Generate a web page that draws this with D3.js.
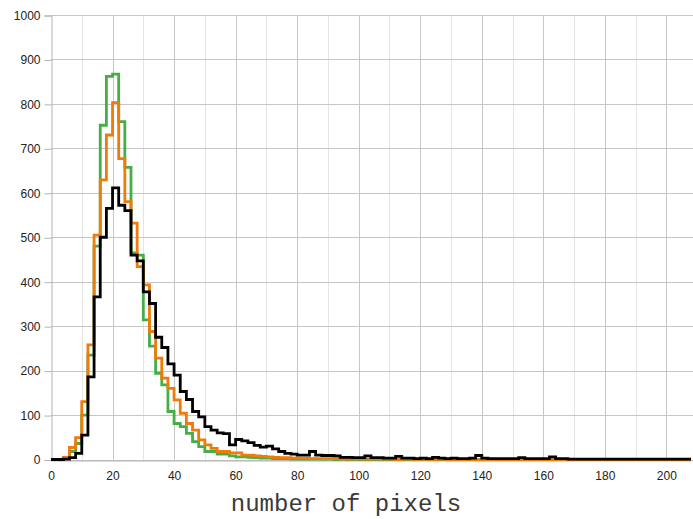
<!DOCTYPE html>
<html>
<head>
<meta charset="utf-8">
<script src="https://cdn.jsdelivr.net/npm/d3@7"></script>
<style>
  html, body { margin: 0; padding: 0; background: #ffffff; }
  svg { display: block; }
</style>
</head>
<body>
<svg id="chart" width="693" height="519"></svg>
<script>
// ---- data ----
const binWidth = 2;
const xTicks = [0, 20, 40, 60, 80, 100, 120, 140, 160, 180, 200];
const yTicks = [0, 100, 200, 300, 400, 500, 600, 700, 800, 900, 1000];
const xLabel = "number of pixels";

const greenValues = [
  0, 0, 2, 18, 36, 100, 235, 480, 752, 862,
  867, 760, 657, 465, 460, 314, 255, 194, 168, 108,
  81, 74, 59, 40, 29, 18, 18, 12, 12, 8,
  6, 6, 5, 4, 3, 3, 2, 2, 2, 1,
  1, 1, 1, 1, 1, 1, 0, 1, 0, 0,
  0, 0, 0, 0, 0, 0, 0, 0, 0, 0,
  0, 0, 0, 0, 0, 0, 0, 0, 0, 0,
  0, 0, 0, 0, 0, 0, 0, 0, 0, 0,
  0, 0, 0, 0, 0, 0, 0, 0, 0, 0,
  0, 0, 0, 0, 0, 0, 0, 0, 0, 0,
  0, 0, 0, 0
];
const orangeValues = [
  0, 0, 5, 27, 49, 130, 258, 505, 629, 730,
  803, 677, 580, 532, 434, 393, 288, 228, 183, 160,
  134, 104, 81, 66, 44, 33, 25, 18, 18, 15,
  15, 10, 10, 8, 7, 6, 5, 4, 4, 3,
  3, 3, 2, 2, 2, 2, 2, 1, 1, 1,
  1, 1, 1, 1, 1, 1, 0, 1, 1, 0,
  1, 0, 0, 1, 0, 0, 0, 0, 0, 0,
  0, 0, 0, 0, 0, 0, 0, 0, 0, 0,
  0, 0, 0, 0, 0, 0, 0, 0, 0, 0,
  0, 0, 0, 0, 0, 0, 0, 0, 0, 0,
  0, 0, 0, 0
];
const blackValues = [
  0, 0, 1, 4, 14, 55, 186, 366, 500, 565,
  611, 572, 560, 460, 447, 377, 351, 275, 252, 215,
  190, 153, 135, 108, 96, 74, 66, 60, 58, 33,
  45, 42, 38, 32, 28, 30, 24, 18, 14, 12,
  10, 10, 18, 10, 9, 9, 8, 5, 5, 4,
  4, 8, 4, 4, 3, 3, 7, 3, 3, 2,
  3, 2, 5, 3, 2, 3, 2, 2, 3, 9,
  3, 2, 2, 2, 2, 2, 4, 2, 2, 2,
  2, 6, 2, 2, 1, 1, 1, 1, 1, 1,
  1, 1, 1, 1, 1, 1, 1, 1, 1, 1,
  1, 1, 1, 1
];

const seriesList = [
  { name: "green", values: greenValues, color: "#46ae46" },
  { name: "orange", values: orangeValues, color: "#f07a0a" },
  { name: "black", values: blackValues, color: "#000000" }
];

// ---- layout ----
const svg = d3.select("#chart");
const x = d3.scaleLinear().domain([0, 208]).range([51, 691]);
const y = d3.scaleLinear().domain([0, 1000]).range([459.5, 15]);

// minor vertical grid (every 10)
const minor = d3.range(10, 208, 20);
svg.append("g").selectAll("line").data(minor).join("line")
  .attr("x1", d => Math.round(x(d)) + 0.5).attr("x2", d => Math.round(x(d)) + 0.5)
  .attr("y1", y(1000)).attr("y2", y(0))
  .attr("stroke", "#e4e4e4").attr("stroke-width", 1);

// major vertical grid
svg.append("g").selectAll("line").data(xTicks.slice(1)).join("line")
  .attr("x1", d => Math.round(x(d)) + 0.5).attr("x2", d => Math.round(x(d)) + 0.5)
  .attr("y1", y(1000)).attr("y2", y(0))
  .attr("stroke", "#c6c6c6").attr("stroke-width", 1);

// horizontal grid
svg.append("g").selectAll("line").data(yTicks).join("line")
  .attr("x1", x(0)).attr("x2", 693)
  .attr("y1", d => Math.round(y(d)) + 0.5).attr("y2", d => Math.round(y(d)) + 0.5)
  .attr("stroke", "#c6c6c6").attr("stroke-width", 1);

// y axis
const yAxis = d3.axisLeft(y).tickValues(yTicks).tickFormat(d3.format("d")).tickSize(7).tickPadding(4);
const gy = svg.append("g").attr("transform", `translate(${Math.round(x(0)) + 0.5},0.5)`).call(yAxis);
gy.select(".domain").attr("stroke", "#b3b3b3");
gy.selectAll(".tick line").attr("stroke", "#b3b3b3");
gy.selectAll("text").attr("font-family", "'Liberation Sans', Arial, sans-serif")
  .attr("font-size", 12).attr("fill", "#222");

// x axis
const xAxis = d3.axisBottom(x).tickValues(xTicks).tickFormat(d3.format("d")).tickSize(0).tickPadding(11);
const gx = svg.append("g").attr("transform", `translate(0,${Math.round(y(0)) + 0.5})`).call(xAxis);
gx.select(".domain").attr("stroke", "#b3b3b3");
gx.selectAll("text").attr("font-family", "'Liberation Sans', Arial, sans-serif")
  .attr("font-size", 12).attr("fill", "#222");

// step lines
const line = d3.line()
  .x(d => x(d[0]))
  .y(d => y(d[1]))
  .curve(d3.curveStepAfter);

seriesList.forEach(s => {
  const pts = s.values.map((v, i) => [i * binWidth, v]);
  pts.push([s.values.length * binWidth, s.values[s.values.length - 1]]);
  svg.append("path")
    .datum(pts)
    .attr("d", line)
    .attr("fill", "none")
    .attr("stroke", s.color)
    .attr("stroke-width", 2.8)
    .attr("stroke-linejoin", "miter");
});

// axis title
svg.append("text")
  .attr("x", 346).attr("y", 511)
  .attr("text-anchor", "middle")
  .attr("font-family", "'Liberation Mono', 'Courier New', monospace")
  .attr("font-size", 24)
  .attr("fill", "#3a3a3a")
  .text(xLabel);
</script>
</body>
</html>
